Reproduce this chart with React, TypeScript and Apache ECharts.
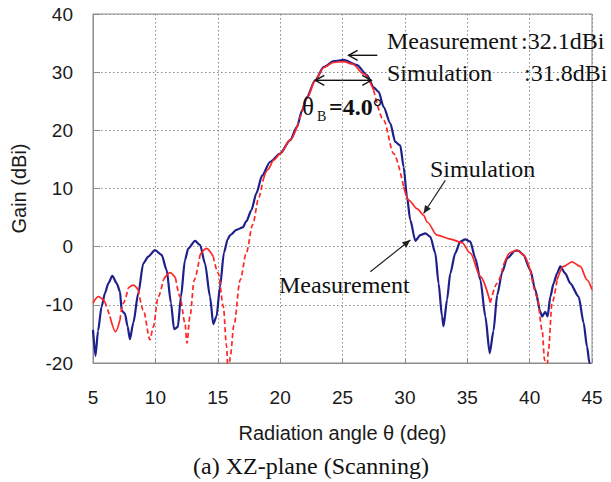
import React, { useEffect, useRef } from "react";
import * as echarts from "echarts";

// Measured radiation pattern (blue)
const measAngle = [
  5.0, 5.2, 5.4, 5.69, 5.96, 6.23, 6.55, 6.9, 7.16, 7.3, 7.56, 7.77, 7.96, 8.23, 8.63, 9.03, 9.43, 9.97,
  10.5, 10.9, 11.25, 11.5, 11.8, 12.05, 12.37, 12.64, 13.18, 13.58, 13.98, 14.38, 14.64, 14.9, 15.18, 15.5,
  15.8, 16.0, 16.5, 17.0, 17.3, 17.7, 18.1, 18.55, 19.2, 20.0, 20.8, 21.35, 21.75, 22.15, 22.8, 23.5, 24.3,
  25.1, 26.16, 26.96, 27.5, 27.9, 28.3, 28.83, 29.23, 29.63, 29.9, 30.17, 30.43, 30.84, 31.24, 31.64, 32.04,
  32.44, 32.7, 32.98, 33.1, 33.38, 33.64, 34.04, 34.44, 34.84, 35.24, 35.65, 36.05, 36.45, 36.8, 37.1, 37.4,
  37.8, 38.2, 38.85, 39.1, 39.5, 40.05, 40.45, 40.86, 41.0, 41.25, 41.44, 41.66, 41.92, 42.2, 42.46, 42.86,
  43.26, 43.93, 44.33, 44.6, 44.8, 44.9,
];
const measGain = [
  -14.3, -18.8, -14.5, -10.3, -8.0, -6.3, -5.0, -6.3, -7.7, -11.0, -11.5, -13.7, -15.9, -13.1, -8.0, -2.9, -1.7, -0.6,
  -1.4, -4.0, -9.7, -14.2, -13.8, -8.6, -2.3, -0.3, 1.0, 0.3, -2.9, -8.6, -13.3, -12.0, -6.9, -1.0,
  1.3, 2.0, 2.9, 3.3, 4.4, 6.3, 9.2, 12.2, 14.6, 16.0, 18.3, 20.6, 23.4, 25.7, 28.6, 30.9, 31.9,
  32.1, 31.2, 29.5, 27.4, 26.6, 24.0, 21.2, 18.0, 17.4, 13.7, 8.6, 4.6, 1.0, 2.0, 2.3, 1.7,
  -1.1, -6.3, -12.0, -13.7, -9.1, -4.6, -1.1, 0.86, 1.26, 0.86, -2.0, -5.7, -12.0, -18.3, -14.5, -8.3,
  -4.4, -2.0, -0.7, -0.7, -1.4, -4.0, -7.4, -11.2, -12.0, -11.2, -12.0, -8.6, -6.3, -4.6, -3.4, -4.6,
  -6.3, -8.6, -13.1, -17.2, -20.0, -21.0,
];

// Simulated radiation pattern (red)
const simAngle = [
  5.0, 5.42, 5.96, 6.36, 6.81, 7.16, 7.43, 7.83, 8.23, 8.63, 9.03, 9.57, 9.83, 10.23, 10.64, 11.17, 11.62,
  11.97, 12.37, 12.53, 12.77, 13.12, 13.58, 14.1, 14.64, 15.04, 15.45, 15.7, 15.85, 16.0, 16.3, 16.8, 17.3,
  17.8, 18.3, 18.6, 19.0, 19.5, 20.0, 20.8, 21.35, 21.75, 22.15, 22.8, 23.5, 24.3, 25.1, 25.8, 26.7, 27.5,
  28.3, 29.1, 29.9, 30.3, 31.0, 31.5, 31.8, 32.57, 33.64, 34.58, 35.24, 36.05, 36.85, 37.4, 37.9, 38.45,
  39.0, 39.5, 40.05, 40.6, 41.0, 41.2, 41.35, 41.5, 41.8, 42.2, 42.72, 43.4, 44.06, 44.6, 45.0,
];
const simGain = [
  -9.7, -8.6, -9.5, -12.0, -14.6, -12.6, -9.7, -7.1, -6.6, -7.4, -10.9, -16.0, -13.8, -8.6, -5.7, -4.45, -5.4,
  -8.6, -13.1, -16.6, -12.0, -5.7, -1.4, -0.3, -1.7, -4.6, -10.3, -17.0, -23.0, -19.0, -13.5, -5.7, -1.0,
  3.8, 8.5, 11.2, 13.2, 14.9, 16.0, 18.3, 20.6, 23.2, 25.5, 28.5, 30.8, 31.7, 31.8, 31.4, 29.7, 26.9,
  21.7, 16.0, 10.3, 8.0, 6.5, 5.4, 4.2, 2.0, 1.3, 0.7, -1.1, -5.1, -9.6, -6.3, -3.2, -1.0,
  -0.57, -1.4, -4.0, -8.6, -14.3, -19.5, -23.0, -18.0, -9.7, -5.7, -3.4, -2.6, -3.4, -5.7, -7.4,
];

const xMin = 5;
const xMax = 45;
const xStep = 5;
const yMin = -20;
const yMax = 40;
const yStep = 10;

const BLUE = "#1f1f8c";
const RED = "#ff2626";
const SERIF = '"Liberation Serif", "Times New Roman", serif';
const SANS = '"Liberation Sans", Arial, sans-serif';

// Split the simulated curve into runs: steep stretches are drawn dashed, the rest solid
function simRuns(threshold: number) {
  const runs: { dashed: boolean; pts: number[][] }[] = [];
  let cur: { dashed: boolean; pts: number[][] } | null = null;
  for (let i = 1; i < simAngle.length; i++) {
    const slope = Math.abs((simGain[i] - simGain[i - 1]) / (simAngle[i] - simAngle[i - 1]));
    const dashed = slope > threshold;
    if (!cur || cur.dashed !== dashed) {
      cur = { dashed, pts: [[simAngle[i - 1], simGain[i - 1]]] };
      runs.push(cur);
    }
    cur.pts.push([simAngle[i], simGain[i]]);
  }
  return runs;
}

function arrowHead(tip: number[], from: number[], len: number, half: number) {
  const dx = tip[0] - from[0];
  const dy = tip[1] - from[1];
  const d = Math.hypot(dx, dy) || 1;
  const ux = dx / d;
  const uy = dy / d;
  const bx = tip[0] - ux * len;
  const by = tip[1] - uy * len;
  return [
    [bx - uy * half, by + ux * half],
    [tip[0], tip[1]],
    [bx + uy * half, by - ux * half],
  ];
}

export default function App() {
  const ref = useRef<HTMLDivElement>(null);

  useEffect(() => {
    if (!ref.current) return;
    const chart = echarts.init(ref.current, undefined, { renderer: "svg" });

    const runs = simRuns(6);
    const simSeries = runs.map((r) => ({
      type: "line",
      data: r.pts,
      showSymbol: false,
      symbol: "none",
      smooth: 0.3,
      smoothMonotone: "x",
      z: 3,
      lineStyle: { color: RED, width: 1.7, type: r.dashed ? [5, 3] : "solid" },
    }));

    chart.setOption({
      animation: false,
      backgroundColor: "#ffffff",
      grid: {
        left: 93,
        right: 19,
        top: 14,
        bottom: 119,
        show: true,
        borderColor: "#8c8c8c",
        borderWidth: 1,
      },
      xAxis: {
        type: "value",
        min: xMin,
        max: xMax,
        interval: xStep,
        name: "Radiation angle θ (deg)",
        nameLocation: "middle",
        nameGap: 60,
        nameTextStyle: { fontFamily: SANS, fontSize: 20, color: "#1a1a1a" },
        axisLine: { onZero: false, lineStyle: { color: "#8c8c8c", width: 1 } },
        axisTick: { inside: true, length: 5, lineStyle: { color: "#8c8c8c" } },
        axisLabel: { fontFamily: SANS, fontSize: 19, color: "#1a1a1a", margin: 25 },
        splitLine: { show: true, lineStyle: { color: "#8a8a8a", type: [1.5, 2.5], width: 1 } },
      },
      yAxis: {
        type: "value",
        min: yMin,
        max: yMax,
        interval: yStep,
        name: "Gain (dBi)",
        nameLocation: "middle",
        nameGap: 64,
        nameTextStyle: { fontFamily: SANS, fontSize: 20, color: "#1a1a1a" },
        axisLine: { show: true, onZero: false, lineStyle: { color: "#8c8c8c", width: 1 } },
        axisTick: { show: true, inside: true, length: 7, lineStyle: { color: "#8c8c8c" } },
        axisLabel: { fontFamily: SANS, fontSize: 19, color: "#1a1a1a", margin: 20 },
        splitLine: { show: true, lineStyle: { color: "#8a8a8a", type: [1.5, 2.5], width: 1 } },
      },
      series: [
        {
          name: "Measurement",
          type: "line",
          data: measAngle.map((a, i) => [a, measGain[i]]),
          showSymbol: false,
          symbol: "none",
          smooth: 0.25,
          smoothMonotone: "x",
          z: 2,
          lineStyle: { color: BLUE, width: 2.2 },
        },
        ...simSeries,
      ],
    });

    const px = (x: number, y: number) => chart.convertToPixel({ gridIndex: 0 }, [x, y]) as number[];
    const stroke = { stroke: "#111", lineWidth: 1.4 };

    const openArrow = (from: number[], to: number[], id: string) => [
      { type: "line", id: id + "-l", shape: { x1: from[0], y1: from[1], x2: to[0], y2: to[1] }, style: stroke, z: 10 },
      { type: "polyline", id: id + "-h", shape: { points: arrowHead(to, from, 9, 5) }, style: { ...stroke, fill: null }, z: 10 },
    ];
    const solidArrow = (from: number[], to: number[], id: string) => [
      { type: "line", id: id + "-l", shape: { x1: from[0], y1: from[1], x2: to[0], y2: to[1] }, style: { stroke: "#222", lineWidth: 1.2 }, z: 10 },
      { type: "polygon", id: id + "-h", shape: { points: arrowHead(to, from, 8, 3.5) }, style: { fill: "#222" }, z: 10 },
    ];

    // peak marker, beamwidth arrows and the two curve labels' pointers
    const peakFrom = px(27.79, 32.9);
    const peakTo = px(25.49, 32.9);
    const bwL = px(22.82, 28.6);
    const bwR = px(27.31, 28.6);
    const bwMid = px(25.0, 28.6);
    const simFrom = px(33.24, 11.4);
    const simTo = px(31.5, 5.7);
    const measFrom = px(27.23, -4.3);
    const measTo = px(30.44, 1.15);

    const txt = (id: string, x: number, y: number, text: string, size: number, extra: any = {}) => ({
      type: "text",
      id,
      x,
      y,
      z: 11,
      style: {
        text,
        fontFamily: SERIF,
        fontSize: size,
        fill: "#111",
        textVerticalAlign: "middle",
        verticalAlign: "middle",
        ...extra,
      },
    });

    chart.setOption({
      graphic: [
        ...openArrow(peakFrom, peakTo, "peak"),
        ...openArrow(bwMid, bwL, "bwl"),
        ...openArrow(bwMid, bwR, "bwr"),
        ...solidArrow(simFrom, simTo, "sim"),
        ...solidArrow(measFrom, measTo, "meas"),
        txt("t-m1", 387, 41, "Measurement", 24),
        txt("t-m2", 521, 41, ":32.1dBi", 24),
        txt("t-s1", 387, 73, "Simulation", 24),
        txt("t-s2", 524, 73, ":31.8dBi", 24),
        txt("t-theta", 302, 106, "θ", 25),
        txt("t-sub", 317, 116, "B", 14),
        txt("t-bw", 329, 107, "=4.0°", 24, { fontWeight: "bold" }),
        txt("t-simlab", 430, 169, "Simulation", 24),
        txt("t-measlab", 279, 285, "Measurement", 24),
        txt("t-cap", 311, 466, "(a) XZ-plane (Scanning)", 24, { textAlign: "center", align: "center" }),
      ],
    });

    return () => chart.dispose();
  }, []);

  return <div ref={ref} style={{ width: 611, height: 482, position: "absolute", left: 0, top: 0 }} />;
}
